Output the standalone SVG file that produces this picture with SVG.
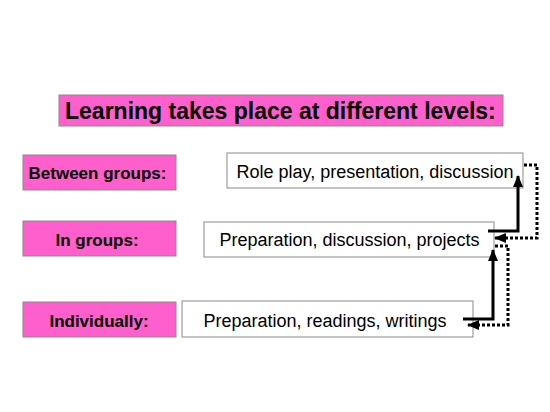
<svg xmlns="http://www.w3.org/2000/svg" width="550" height="412" viewBox="0 0 550 412">
<defs>
<style>
.pink{fill:#FF5FCC;stroke:#8a8a8a;stroke-width:1}
.white{fill:#FFFFFF;stroke:#8a8a8a;stroke-width:1}
.title{font-family:"Liberation Sans",Arial,sans-serif;font-weight:bold;font-size:23px;fill:#000}
.lbl{font-family:"Liberation Sans",Arial,sans-serif;font-weight:bold;font-size:17px;fill:#000}
.txt{font-family:"Liberation Sans",Arial,sans-serif;font-size:18px;fill:#000}
.solid{fill:none;stroke:#000;stroke-width:3}
.dot{fill:none;stroke:#000;stroke-width:3;stroke-dasharray:3 2}
</style>
<marker id="ah" markerWidth="12" markerHeight="10" refX="11" refY="5" orient="auto" markerUnits="userSpaceOnUse" viewBox="0 0 12 10">
<path d="M0,0 L12,5 L0,10 Z" fill="#000"/>
</marker>
</defs>
<rect width="550" height="412" fill="#fff"/>
<g id="title">
<rect class="pink" x="59" y="95" width="444" height="31"/>
<text class="title" x="65" y="119">Learning takes place at different levels:</text>
</g>
<g id="between-label">
<rect class="pink" x="23" y="155" width="153" height="35"/>
<text class="lbl" x="97.5" y="179" text-anchor="middle">Between groups:</text>
</g>
<g id="between-box">
<rect class="white" x="227" y="153" width="296" height="35"/>
<text class="txt" x="375" y="178" text-anchor="middle">Role play, presentation, discussion</text>
</g>
<g id="groups-label">
<rect class="pink" x="23" y="221" width="153" height="35"/>
<text class="lbl" x="97" y="246" text-anchor="middle">In groups:</text>
</g>
<g id="groups-box">
<rect class="white" x="204" y="222" width="290" height="35"/>
<text class="txt" x="349.5" y="246" text-anchor="middle">Preparation, discussion, projects</text>
</g>
<g id="individual-label">
<rect class="pink" x="23" y="302" width="153" height="35"/>
<text class="lbl" x="99" y="327" text-anchor="middle">Individually:</text>
</g>
<g id="individual-box">
<rect class="white" x="182" y="301" width="291" height="36"/>
<text class="txt" x="325" y="327" text-anchor="middle">Preparation, readings, writings</text>
</g>
<g id="connectors">
<path class="solid" d="M488,231 H518 V176" marker-end="url(#ah)"/>
<path class="dot" d="M524,165 H537 V238 H495" marker-end="url(#ah)"/>
<path class="solid" d="M463,319 H493 V250" marker-end="url(#ah)"/>
<path class="dot" d="M495,246 H508 V325 H468" marker-end="url(#ah)"/>
</g>
</svg>
